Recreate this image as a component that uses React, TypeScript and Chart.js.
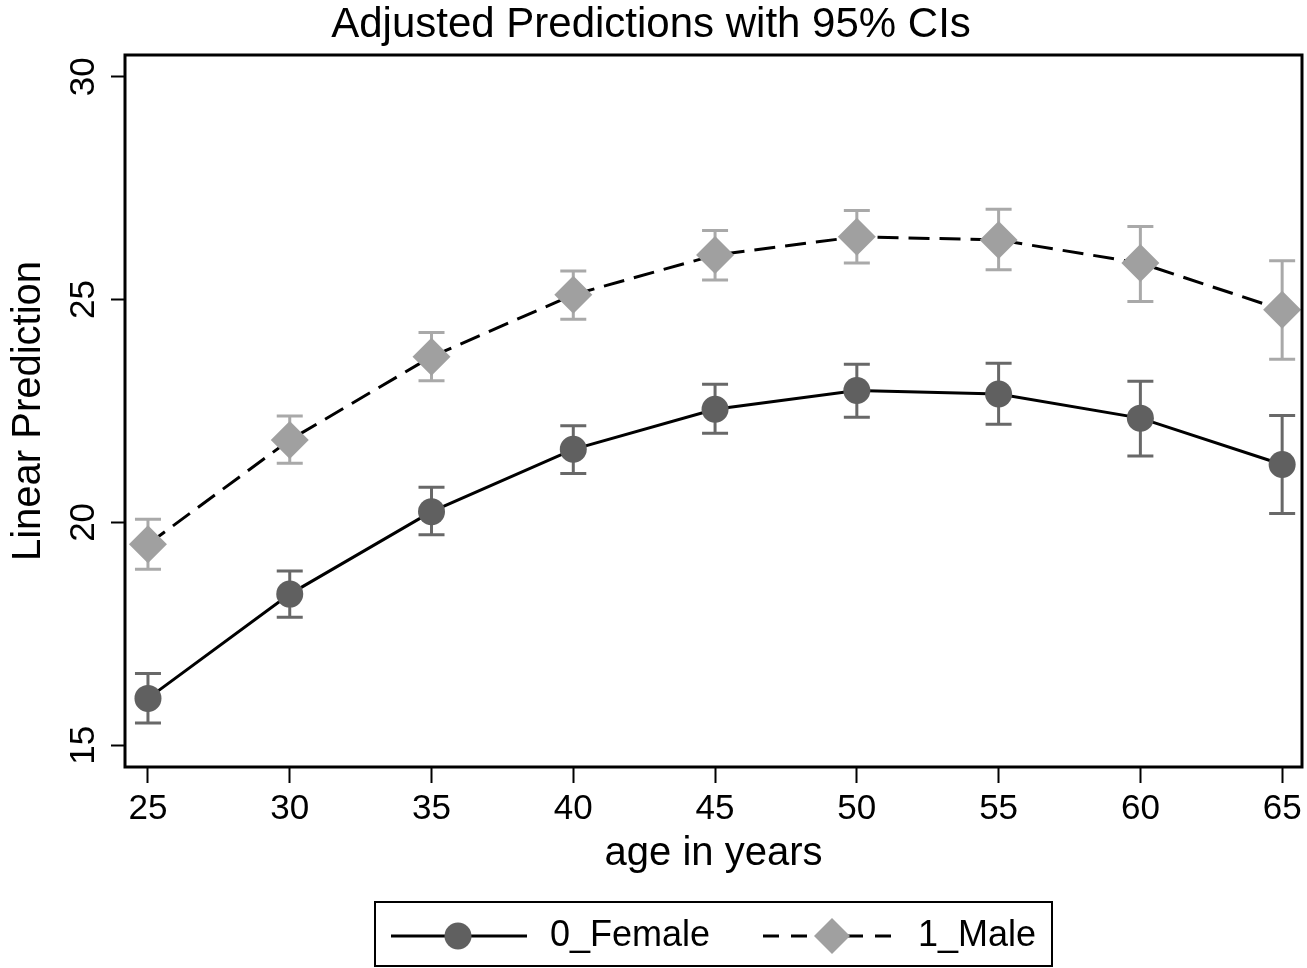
import React, { useEffect, useRef } from "react";
import { Chart, registerables } from "chart.js";

Chart.register(...registerables);

const ages = [25, 30, 35, 40, 45, 50, 55, 60, 65];
const female = [16.05, 18.39, 20.24, 21.64, 22.54, 22.96, 22.88, 22.34, 21.3];
const femaleLo = [15.5, 17.87, 19.72, 21.1, 22.0, 22.36, 22.2, 21.49, 20.2];
const femaleHi = [16.61, 18.91, 20.79, 22.17, 23.1, 23.55, 23.57, 23.17, 22.4];
const male = [19.51, 21.85, 23.72, 25.11, 26.0, 26.41, 26.34, 25.82, 24.77];
const maleLo = [18.95, 21.33, 23.18, 24.56, 25.44, 25.82, 25.67, 24.96, 23.66];
const maleHi = [20.07, 22.39, 24.26, 25.64, 26.55, 27.0, 27.03, 26.64, 25.87];
const xTicks = [25, 30, 35, 40, 45, 50, 55, 60, 65];
const yTicks = [15, 20, 25, 30];
const seriesLabels = ["0_Female", "1_Male"];
const titleText = "Adjusted Predictions with 95% CIs";
const xTitle = "age in years";
const yTitle = "Linear Prediction";

const FONT = "'Liberation Sans', Arial, Helvetica, sans-serif";
const FEMALE_MARK = "#606060";
const FEMALE_CI = "#686868";
const MALE_MARK = "#a0a0a0";
const MALE_CI = "#a9a9a9";

const ciPlugin = {
  id: "ciBars",
  beforeDatasetsDraw(chart: any) {
    const { ctx, scales } = chart;
    const xs = scales.x;
    const ys = scales.y;
    const groups = [
      { lo: femaleLo, hi: femaleHi, color: FEMALE_CI },
      { lo: maleLo, hi: maleHi, color: MALE_CI },
    ];
    ctx.save();
    ctx.lineWidth = 3;
    ctx.lineCap = "butt";
    for (const g of groups) {
      ctx.strokeStyle = g.color;
      ages.forEach((a, i) => {
        const x = xs.getPixelForValue(a);
        const y1 = ys.getPixelForValue(g.lo[i]);
        const y2 = ys.getPixelForValue(g.hi[i]);
        ctx.beginPath();
        ctx.moveTo(x, y1);
        ctx.lineTo(x, y2);
        ctx.moveTo(x - 13, y1);
        ctx.lineTo(x + 13, y1);
        ctx.moveTo(x - 13, y2);
        ctx.lineTo(x + 13, y2);
        ctx.stroke();
      });
    }
    ctx.restore();
  },
};

const framePlugin = {
  id: "frameAndLabels",
  afterDraw(chart: any) {
    const { ctx, chartArea, scales } = chart;
    const ys = scales.y;
    ctx.save();
    // plot frame
    ctx.strokeStyle = "#000";
    ctx.lineWidth = 3;
    ctx.strokeRect(
      chartArea.left,
      chartArea.top,
      chartArea.right - chartArea.left,
      chartArea.bottom - chartArea.top
    );
    // rotated y tick labels
    ctx.fillStyle = "#000";
    ctx.font = `35px ${FONT}`;
    ctx.textAlign = "center";
    ctx.textBaseline = "middle";
    ys.ticks.forEach((t: any) => {
      const y = ys.getPixelForValue(t.value);
      ctx.save();
      ctx.translate(84, y);
      ctx.rotate(-Math.PI / 2);
      ctx.fillText(String(t.value), 0, 0);
      ctx.restore();
    });

    // legend
    const cx = (chartArea.left + chartArea.right) / 2;
    const boxW = 677;
    const bx = cx - boxW / 2;
    const by = 902;
    const bh = 64;
    ctx.lineWidth = 2;
    ctx.strokeStyle = "#000";
    ctx.strokeRect(bx, by, boxW, bh);
    const ly = by + 34;
    // female sample
    ctx.lineWidth = 3;
    ctx.beginPath();
    ctx.moveTo(bx + 16, ly);
    ctx.lineTo(bx + 152, ly);
    ctx.stroke();
    ctx.fillStyle = FEMALE_MARK;
    ctx.beginPath();
    ctx.arc(bx + 83, ly, 13.5, 0, Math.PI * 2);
    ctx.fill();
    // male sample
    ctx.setLineDash([16, 12]);
    ctx.beginPath();
    ctx.moveTo(bx + 388, ly);
    ctx.lineTo(bx + 525, ly);
    ctx.stroke();
    ctx.setLineDash([]);
    ctx.fillStyle = MALE_MARK;
    const dx = bx + 457;
    ctx.beginPath();
    ctx.moveTo(dx, ly - 18);
    ctx.lineTo(dx + 18, ly);
    ctx.lineTo(dx, ly + 18);
    ctx.lineTo(dx - 18, ly);
    ctx.closePath();
    ctx.fill();
    // legend text
    ctx.fillStyle = "#000";
    ctx.font = `36px ${FONT}`;
    ctx.textAlign = "left";
    ctx.textBaseline = "middle";
    const labels = chart.data.datasets.map((d: any) => d.label);
    ctx.fillText(labels[0], bx + 175, ly);
    ctx.fillText(labels[1], bx + 543, ly);
    ctx.restore();
  },
};

export default function App() {
  const ref = useRef<HTMLCanvasElement | null>(null);

  useEffect(() => {
    document.body.style.margin = "0";
    const canvas = ref.current;
    if (!canvas) return;
    const chart = new Chart(canvas, {
      type: "line",
      data: {
        datasets: [
          {
            label: seriesLabels[0],
            data: ages.map((a, i) => ({ x: a, y: female[i] })),
            borderColor: "#000",
            borderWidth: 3,
            pointStyle: "circle",
            pointRadius: 13.5,
            pointHoverRadius: 13.5,
            pointBackgroundColor: FEMALE_MARK,
            pointBorderWidth: 0,
            pointBorderColor: FEMALE_MARK,
            tension: 0,
            fill: false,
            clip: false as any,
          },
          {
            label: seriesLabels[1],
            data: ages.map((a, i) => ({ x: a, y: male[i] })),
            borderColor: "#000",
            borderWidth: 3,
            borderDash: [21, 10],
            pointStyle: "rectRot",
            pointRadius: 19,
            pointHoverRadius: 19,
            pointBackgroundColor: MALE_MARK,
            pointBorderWidth: 0,
            pointBorderColor: MALE_MARK,
            tension: 0,
            fill: false,
            clip: false as any,
          },
        ],
      },
      options: {
        responsive: false,
        animation: false,
        devicePixelRatio: 1,
        events: [],
        layout: {
          autoPadding: false,
          padding: { left: 0, right: 5, top: 0, bottom: 73 },
        },
        plugins: {
          legend: { display: false },
          tooltip: { enabled: false },
          title: {
            display: true,
            text: titleText,
            color: "#000",
            font: { family: FONT, size: 42, weight: "normal" },
            padding: { top: 0, bottom: 4.6 },
          },
        },
        scales: {
          x: {
            type: "linear",
            min: 24.19,
            max: 65.7,
            afterBuildTicks: (s: any) => {
              s.ticks = xTicks.map((v) => ({ value: v }));
            },
            afterFit: (s: any) => {
              s.height = 128;
              s.paddingLeft = 0;
              s.paddingRight = 0;
            },
            ticks: {
              color: "#000",
              font: { family: FONT, size: 35 },
              padding: 5.5,
              maxRotation: 0,
              minRotation: 0,
              callback: (v: any) => String(v),
            },
            grid: {
              drawOnChartArea: false,
              drawTicks: true,
              tickLength: 16,
              tickColor: "#000",
              tickWidth: 2,
            },
            border: { display: false },
            title: {
              display: true,
              text: xTitle,
              color: "#000",
              font: { family: FONT, size: 40 },
              padding: { top: 0, bottom: 17 },
            },
          },
          y: {
            type: "linear",
            min: 14.51,
            max: 30.49,
            afterBuildTicks: (s: any) => {
              s.ticks = yTicks.map((v) => ({ value: v }));
            },
            afterFit: (s: any) => {
              s.width = 125;
              s.paddingTop = 0;
              s.paddingBottom = 0;
            },
            ticks: { display: false },
            grid: {
              drawOnChartArea: false,
              drawTicks: true,
              tickLength: 14,
              tickColor: "#000",
              tickWidth: 2,
            },
            border: { display: false },
            title: {
              display: true,
              text: yTitle,
              color: "#000",
              font: { family: FONT, size: 40 },
              padding: { top: 4.5, bottom: 0 },
            },
          },
        },
      },
      plugins: [ciPlugin, framePlugin],
    } as any);
    return () => chart.destroy();
  }, []);

  return (
    <div style={{ width: 1307, height: 968, background: "#fff" }}>
      <canvas ref={ref} width={1307} height={968} style={{ display: "block" }} />
    </div>
  );
}
